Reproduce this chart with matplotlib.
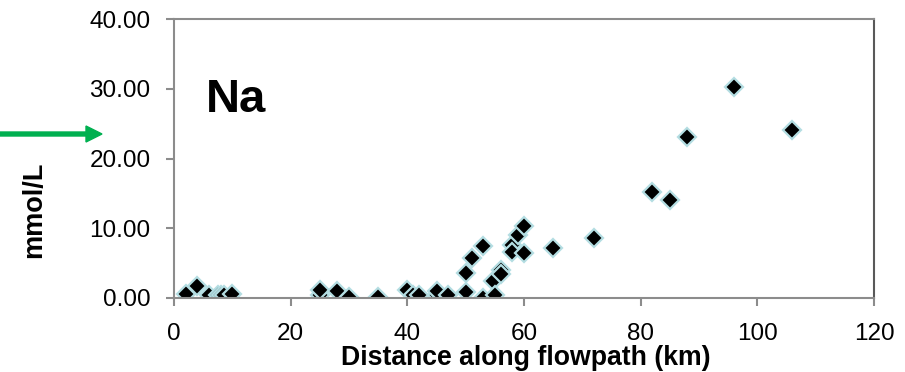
import matplotlib
matplotlib.use('Agg')
import matplotlib.pyplot as plt

# Na concentration vs. distance along flowpath
dist_km = [2, 4, 6, 7.5, 8, 8.5, 10,
           25, 25, 28, 30, 35, 40, 41, 42, 45, 45, 47,
           50, 50, 51, 53, 53, 54.6, 55, 56, 56,
           58, 58, 59, 60, 60, 65, 72,
           82, 85, 88, 96, 106]
na_mmol = [0.6, 1.7, 0.4, 0.4, 0.5, 0.4, 0.6,
           0.4, 1.1, 1.0, 0.2, 0.2, 1.1, 0.4, 0.4, 0.5, 1.0, 0.4,
           0.9, 3.6, 5.7, 7.5, 0.0, 2.4, 0.5, 4.0, 3.5,
           7.6, 6.6, 9.1, 10.3, 6.4, 7.1, 8.6,
           15.2, 14.0, 23.1, 30.2, 24.1]

plt.rcParams['font.family'] = ['Liberation Sans', 'DejaVu Sans']

W, H = 905, 372
fig = plt.figure(figsize=(W / 100, H / 100), dpi=100)
ax = fig.add_axes([174 / W, 1 - 298 / H, 700 / W, 279 / H])

ax.plot(dist_km, na_mmol, linestyle='none', marker='D', markersize=9,
        markerfacecolor='black', markeredgecolor='#b4dde2', markeredgewidth=1.6)

ax.set_xlim(0, 120)
ax.set_ylim(0, 40)
ax.set_xticks(range(0, 121, 20))
ax.set_yticks(range(0, 41, 10))
ax.set_yticklabels(['%.2f' % v for v in range(0, 41, 10)])
ax.tick_params(direction='out', length=6, width=1.5, color='#8c8c8c',
               labelsize=17.5)
ax.tick_params(axis='y', pad=11)
ax.tick_params(axis='x', pad=12)
for side in ['left', 'bottom', 'top']:
    ax.spines[side].set_color('#8c8c8c')
    ax.spines[side].set_linewidth(1.5)
ax.spines['right'].set_color('#595959')
ax.spines['right'].set_linewidth(1.5)

# axis titles placed in pixel positions
fig.text(526 / W, 1 - 358 / H, 'Distance along flowpath (km)', fontsize=19.2,
         fontweight='bold', ha='center', va='center')
fig.text(34 / W, 1 - 210 / H, 'mmol/L', fontsize=19.5, fontweight='bold',
         rotation=90, ha='center', va='center')

ax.text(0.045, 0.668, 'Na', transform=ax.transAxes, fontsize=34,
        fontweight='bold', va='baseline')

# green arrow pointing at the chart from the left edge
fig.patches.append(matplotlib.patches.FancyArrow(
    0.0, 1 - 134 / H, 102 / W, 0, width=4 / H, head_width=16 / H,
    head_length=16 / W, length_includes_head=True, color='#00b050',
    transform=fig.transFigure, figure=fig))

plt.savefig('out.png', dpi=100)
